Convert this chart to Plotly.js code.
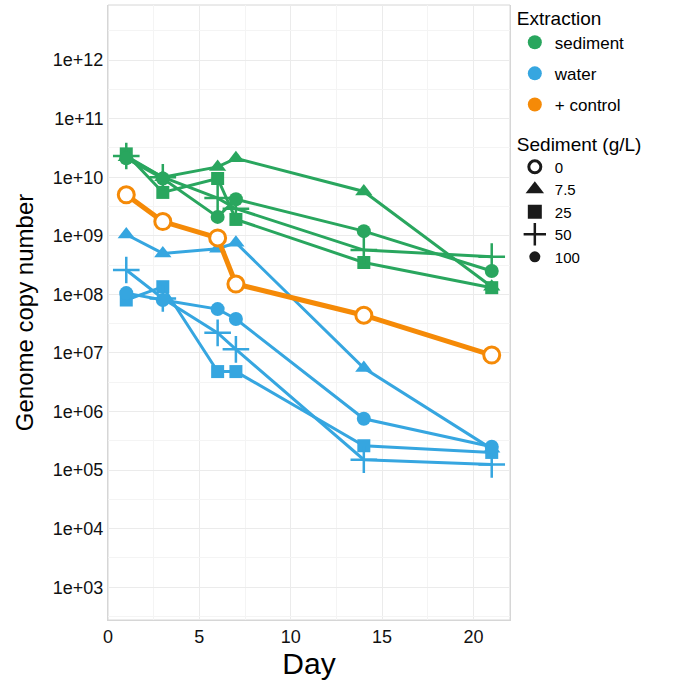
<!DOCTYPE html>
<html>
<head>
<meta charset="utf-8">
<script src="https://cdn.plot.ly/plotly-3.0.1.min.js"></script>
<style>
  html, body { margin: 0; padding: 0; background: #fff; }
  #chart { width: 675px; height: 686px; }
</style>
</head>
<body>
<div id="chart"></div>
<script>
const days = [1, 3, 6, 7, 14, 21];

// sediment extraction, by sediment load (g/L)
const sed75 = [2.2e10, 1.0e10, 1.5e10, 2.1e10, 5.7e9, 1.35e8];
const sed25 = [2.5e10, 5.5e9, 9.5e9, 1.9e9, 3.5e8, 1.3e8];
const sed50 = [2.3e10, 1.0e10, 4.4e9, 2.9e9, 5.7e8, 4.4e8];
const sed100 = [2.1e10, 9.5e9, 2.1e9, 4.2e9, 1.2e9, 2.5e8];

// water extraction
const wat75 = [1.05e9, 5.0e8, 6.0e8, 7.6e8, 5.5e6, 2.3e5];
const wat25 = [8.0e7, 1.35e8, 4.8e6, 4.8e6, 2.6e5, 2.0e5];
const wat50 = [2.6e8, 8.5e7, 2.2e7, 1.15e7, 1.5e5, 1.25e5];
const wat100 = [1.05e8, 8.0e7, 5.6e7, 3.8e7, 7.5e5, 2.5e5];

// positive control (0 g/L)
const ctrl0 = [5.0e9, 1.75e9, 9.2e8, 1.5e8, 4.4e7, 9.2e6];

const yTickVals = [1e3, 1e4, 1e5, 1e6, 1e7, 1e8, 1e9, 1e10, 1e11, 1e12];
const yTickText = ["1e+03", "1e+04", "1e+05", "1e+06", "1e+07", "1e+08", "1e+09", "1e+10", "1e+11", "1e+12"];
const yMinorVals = [10 ** 2.5, 10 ** 3.5, 10 ** 4.5, 10 ** 5.5, 10 ** 6.5, 10 ** 7.5, 10 ** 8.5, 10 ** 9.5, 10 ** 10.5, 10 ** 11.5, 10 ** 12.5];

const extractionNames = ["sediment", "water", "+ control"];
const sedimentNames = ["0", "7.5", "25", "50", "100"];

const GREEN = "#29a65e";
const BLUE = "#36a6e0";
const ORANGE = "#f58a07";

const shapes = {
  "7.5": { symbol: "triangle-up", size: 15 },
  "25": { symbol: "square", size: 13 },
  "50": { symbol: "cross-thin-open", size: 19 },
  "100": { symbol: "circle", size: 14 },
};

function series(y, color, load) {
  const s = shapes[load];
  return {
    type: "scatter",
    mode: "lines+markers",
    x: days,
    y: y,
    showlegend: false,
    line: { color: color, width: 3 },
    marker: {
      symbol: s.symbol,
      size: s.size,
      color: color,
      line: { color: color, width: s.symbol === "cross-thin-open" ? 2.5 : 0 },
    },
  };
}

const traces = [
  series(wat75, BLUE, "7.5"),
  series(wat25, BLUE, "25"),
  series(wat50, BLUE, "50"),
  series(wat100, BLUE, "100"),
  series(sed75, GREEN, "7.5"),
  series(sed25, GREEN, "25"),
  series(sed50, GREEN, "50"),
  series(sed100, GREEN, "100"),
  {
    type: "scatter",
    mode: "lines+markers",
    x: days,
    y: ctrl0,
    showlegend: false,
    line: { color: ORANGE, width: 5 },
    marker: { symbol: "circle", size: 16, color: "#ffffff", line: { color: ORANGE, width: 3 } },
  },
  // invisible trace carrying the minor y grid
  {
    type: "scatter",
    mode: "markers",
    x: [null],
    y: [null],
    yaxis: "y2",
    showlegend: false,
    hoverinfo: "skip",
  },
];

// legend entries
const extractionColors = [GREEN, BLUE, ORANGE];
extractionNames.forEach((name, i) => {
  traces.push({
    type: "scatter",
    mode: "markers",
    x: [null],
    y: [null],
    name: name,
    legend: "legend",
    legendgroup: "ext" + i,
    marker: { symbol: "circle", size: 14, color: extractionColors[i] },
  });
});

const legendSymbols = {
  "0": { symbol: "circle-open", size: 12, line: { color: "#000", width: 3 } },
  "7.5": { symbol: "triangle-up", size: 17, line: { width: 0 } },
  "25": { symbol: "square", size: 14, line: { width: 0 } },
  "50": { symbol: "cross-thin-open", size: 26, line: { color: "#000", width: 2.5 } },
  "100": { symbol: "circle", size: 11, line: { width: 0 } },
};
sedimentNames.forEach((name) => {
  const s = legendSymbols[name];
  traces.push({
    type: "scatter",
    mode: "markers",
    x: [null],
    y: [null],
    name: name,
    legend: "legend2",
    marker: { symbol: s.symbol, size: s.size, color: "#1a1a1a", line: s.line },
  });
});

const FONT = "Liberation Sans, Arial, sans-serif";
const yDomainTop = 1 - 5 / 620;

const layout = {
  width: 675,
  height: 686,
  paper_bgcolor: "#ffffff",
  plot_bgcolor: "#ffffff",
  font: { family: FONT, color: "#000" },
  margin: { l: 108, r: 165, t: 0, b: 66 },
  xaxis: {
    range: [0, 22],
    tickvals: [0, 5, 10, 15, 20],
    ticks: "",
    tickfont: { size: 18, color: "#111" },
    gridcolor: "#ebebeb",
    gridwidth: 1,
    minor: { tickvals: [2.5, 7.5, 12.5, 17.5], showgrid: true, gridcolor: "#f4f4f4", gridwidth: 1 },
    showline: true,
    linecolor: "#d6d6d6",
    linewidth: 1,
    zeroline: false,
    title: { text: "Day", font: { size: 30 }, standoff: 6 },
  },
  yaxis: {
    type: "log",
    domain: [0, yDomainTop],
    range: [2.44, 12.94],
    tickvals: yTickVals,
    ticktext: yTickText,
    ticks: "",
    tickfont: { size: 18, color: "#111" },
    gridcolor: "#ebebeb",
    gridwidth: 1,
    showline: true,
    mirror: true,
    linecolor: "#d6d6d6",
    linewidth: 1,
    zeroline: false,
    title: { text: "Genome copy number", font: { size: 24 }, standoff: 12 },
  },
  yaxis2: {
    type: "log",
    overlaying: "y",
    domain: [0, yDomainTop],
    range: [2.44, 12.94],
    tickvals: yMinorVals,
    showticklabels: false,
    ticks: "",
    gridcolor: "#f4f4f4",
    gridwidth: 1,
    zeroline: false,
    layer: "below traces",
  },
  shapes: [
    // top and right panel border (domain coordinates)
    { type: "rect", xref: "x domain", yref: "y domain", x0: 0, x1: 1, y0: 0, y1: 1,
      line: { color: "#d6d6d6", width: 1 }, fillcolor: "rgba(0,0,0,0)", layer: "below" },
  ],
  legend: {
    x: 1.012,
    y: 1.0,
    xanchor: "left",
    yanchor: "top",
    title: { text: "Extraction", font: { size: 19 } },
    font: { size: 17 },
    tracegroupgap: 6,
    bgcolor: "rgba(0,0,0,0)",
    itemsizing: "trace",
  },
  legend2: {
    x: 1.012,
    y: 0.797,
    xanchor: "left",
    yanchor: "top",
    title: { text: "Sediment (g/L)", font: { size: 19 } },
    font: { size: 15 },
    tracegroupgap: 0,
    bgcolor: "rgba(0,0,0,0)",
    itemsizing: "trace",
  },
  showlegend: true,
};

Plotly.newPlot("chart", traces, layout, { displayModeBar: false, staticPlot: true });
</script>
</body>
</html>
